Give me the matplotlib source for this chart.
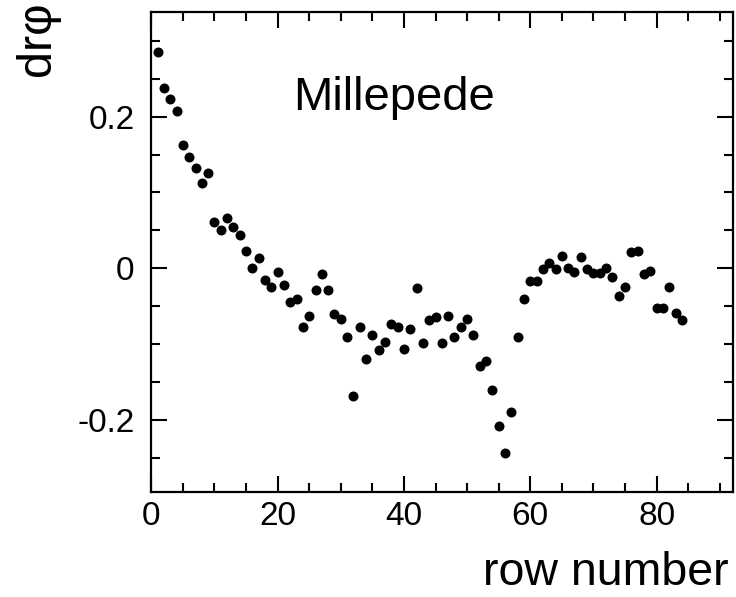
import matplotlib
matplotlib.use("Agg")
import matplotlib.pyplot as plt
from matplotlib.ticker import MultipleLocator, FuncFormatter

plt.rcParams['font.family'] = ['Liberation Sans', 'DejaVu Sans']

row = list(range(1, 85))
drphi = [
    0.285, 0.238, 0.223, 0.208, 0.162, 0.147, 0.132, 0.112, 0.126, 0.061,
    0.051, 0.067, 0.055, 0.044, 0.023, 0.001, 0.014, -0.015, -0.025, -0.005,
    -0.022, -0.045, -0.041, -0.077, -0.063, -0.028, -0.008, -0.029, -0.060, -0.067,
    -0.091, -0.168, -0.077, -0.120, -0.088, -0.108, -0.097, -0.074, -0.077, -0.107,
    -0.080, -0.026, -0.099, -0.068, -0.064, -0.099, -0.063, -0.091, -0.078, -0.067,
    -0.088, -0.129, -0.122, -0.160, -0.208, -0.243, -0.190, -0.091, -0.041, -0.017,
    -0.017, -0.001, 0.007, -0.001, 0.016, 0.001, -0.005, 0.015, -0.001, -0.006,
    -0.006, 0.001, -0.011, -0.037, -0.025, 0.021, 0.023, -0.008, -0.004, -0.052,
    -0.052, -0.025, -0.059, -0.068,
]

W, H = 736, 597
fig = plt.figure(figsize=(W / 100, H / 100), dpi=100)
ax = fig.add_axes([151.3 / W, 1 - 492.3 / H, (733 - 151.3) / W, (492.3 - 11.7) / H])

ax.plot(row, drphi, 'o', color='black', markersize=7.2, markeredgewidth=0)

ax.set_xlim(0, 92.1)
ax.set_ylim(-0.2955, 0.3385)

ax.xaxis.set_major_locator(MultipleLocator(20))
ax.xaxis.set_minor_locator(MultipleLocator(5))
ax.yaxis.set_major_locator(MultipleLocator(0.2))
ax.yaxis.set_minor_locator(MultipleLocator(0.05))

def fmt(v, pos):
    if abs(v) < 1e-9:
        return "0"
    s = "%g" % round(v, 3)
    return s

ax.xaxis.set_major_formatter(FuncFormatter(fmt))
ax.yaxis.set_major_formatter(FuncFormatter(fmt))

for sp in ax.spines.values():
    sp.set_linewidth(1.6)

ax.tick_params(which='both', direction='in', top=True, right=True, width=1.5)
ax.tick_params(which='major', length=11.5)
ax.tick_params(which='minor', length=6.3)
ax.tick_params(axis='x', which='major', labelsize=24, pad=6)
ax.tick_params(axis='y', which='major', labelsize=24, pad=12)

fig.text(292.7 / W, 1 - 110 / H, "Millepede", fontsize=34, ha='left', va='baseline')
fig.text(728.3 / W, 1 - 585 / H, "row number", fontsize=33.5, ha='right', va='baseline')
fig.text(37 / W, 1 - 1 / H, "drφ", fontsize=35, rotation=90, ha='center', va='top')

fig.savefig("out.png", dpi=100)
